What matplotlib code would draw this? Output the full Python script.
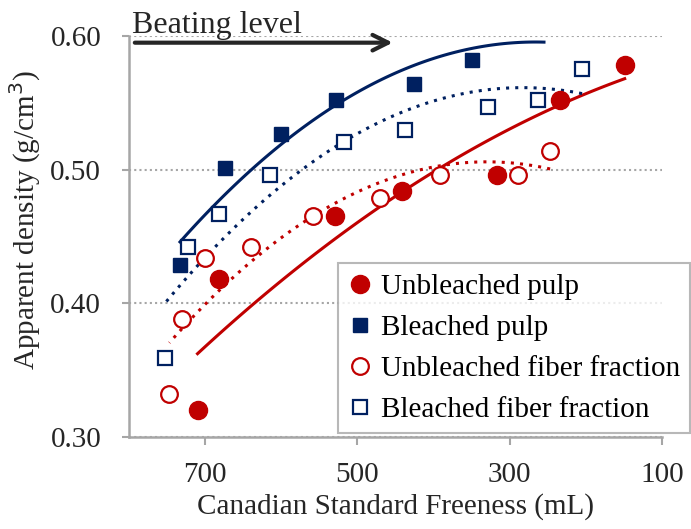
import numpy as np
import matplotlib.pyplot as plt

plt.rcParams["font.family"] = ["Liberation Serif", "DejaVu Serif"]

RED = "#C00000"
NAVY = "#002060"
GRAY = "#A6A6A6"
TXT = "#262626"

# CSF (mL) and apparent density (g/cm3)
unbl_pulp_x = [710, 682, 529, 441, 317, 234, 149]
unbl_pulp_y = [0.320, 0.418, 0.465, 0.484, 0.496, 0.552, 0.578]

bl_pulp_x = [733, 674, 600, 528, 426, 350]
bl_pulp_y = [0.429, 0.501, 0.527, 0.552, 0.564, 0.582]

unbl_fib_x = [747, 730, 700, 640, 558, 470, 391, 289, 247]
unbl_fib_y = [0.332, 0.388, 0.434, 0.442, 0.465, 0.479, 0.496, 0.496, 0.514]

bl_fib_x = [753, 722, 682, 615, 518, 438, 329, 263, 205]
bl_fib_y = [0.359, 0.442, 0.467, 0.496, 0.521, 0.530, 0.547, 0.552, 0.575]

# trendline of bleached pulp (it runs past the last point)
bl_pulp_trend_x = [733, 628, 526, 417, 351, 255]
bl_pulp_trend_y = [0.4476, 0.5022, 0.550, 0.581, 0.5914, 0.5944]

x_ticks = [700, 500, 300, 100]
y_ticks = [0.30, 0.40, 0.50, 0.60]


def trend(ax, x, y, color, ls, deg=2):
    c = np.polyfit(x, y, deg)
    xs = np.linspace(min(x), max(x), 100)
    ax.plot(xs, np.polyval(c, xs), color=color, ls=ls, lw=2.2, zorder=2)


fig = plt.figure(figsize=(6.91, 5.29), dpi=100)
ax = fig.add_axes([129 / 691, 1 - 437 / 529, (662 - 129) / 691, (437 - 36) / 529])

trend(ax, unbl_pulp_x, unbl_pulp_y, RED, "-")
trend(ax, bl_pulp_trend_x, bl_pulp_trend_y, NAVY, "-")
trend(ax, unbl_fib_x, unbl_fib_y, RED, (0, (1, 2)))
trend(ax, bl_fib_x, bl_fib_y, NAVY, (0, (1, 2)))

ax.plot(unbl_pulp_x, unbl_pulp_y, "o", ms=13, color=RED, ls="none",
        label="Unbleached pulp", zorder=3)
ax.plot(bl_pulp_x, bl_pulp_y, "s", ms=9.5, color=NAVY, ls="none",
        label="Bleached pulp", zorder=3)
ax.plot(unbl_fib_x, unbl_fib_y, "o", ms=12, mfc="white", mec=RED, mew=1.6,
        ls="none", label="Unbleached fiber fraction", zorder=3)
ax.plot(bl_fib_x, bl_fib_y, "s", ms=10, mfc="white", mec=NAVY, mew=1.6,
        ls="none", label="Bleached fiber fraction", zorder=3)

ax.set_xlim(800, 100)
ax.set_ylim(0.30, 0.60)
ax.set_xticks(x_ticks)
ax.set_yticks(y_ticks)
ax.set_yticklabels([f"{v:.2f}" for v in y_ticks])
ax.tick_params(labelsize=21, colors=GRAY, labelcolor=TXT, width=1.5)
ax.tick_params(axis="x", length=6, pad=12)
ax.tick_params(axis="y", length=5, pad=15)
for s in ["top", "right"]:
    ax.spines[s].set_visible(False)
for s in ["left", "bottom"]:
    ax.spines[s].set_color(GRAY)
    ax.spines[s].set_linewidth(1.8)
ax.yaxis.grid(True, color=GRAY, ls=(0, (1, 1.5)), lw=1.5)
ax.set_axisbelow(True)

ax.set_xlabel("Canadian Standard Freeness (mL)", fontsize=21, color=TXT, labelpad=4)
ax.set_ylabel("Apparent density (g/cm$^3$)", fontsize=21, color=TXT, labelpad=6)
ax.yaxis.set_label_coords(-0.162, 0.54)

ax.annotate("", xy=(450, 0.595), xytext=(796, 0.595),
            arrowprops=dict(arrowstyle="->", lw=3, color=TXT, mutation_scale=28),
            annotation_clip=False)
ax.text(796, 0.6025, "Beating level", fontsize=23, color=TXT, va="baseline",
        ha="left", clip_on=False)

leg = ax.legend(loc="lower right", bbox_to_anchor=(1.0525, 0.01), fontsize=21,
                frameon=True, fancybox=False, edgecolor=GRAY, handlelength=0.8,
                handletextpad=0.3, borderpad=0.35, labelspacing=0.5, borderaxespad=0)
leg.get_frame().set_linewidth(1.5)

fig.savefig("out.png", dpi=100)
